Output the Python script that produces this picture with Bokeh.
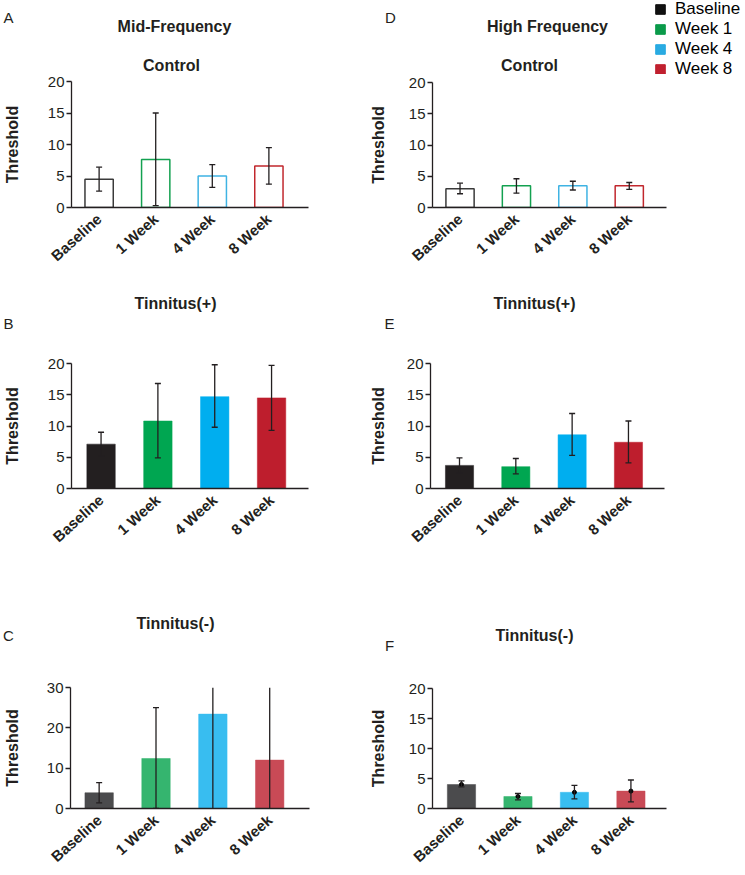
import math
import numpy as np
from bokeh.plotting import figure
from bokeh.models import (ColumnDataSource, Whisker, TeeHead, Label, FixedTicker,
                          Legend, LegendItem, Range1d)
from bokeh.layouts import column, row
from bokeh.embed import file_html
from bokeh.resources import INLINE

# ---------------- data ----------------
categories = ["Baseline", "1 Week", "4 Week", "8 Week"]
legend_labels = ["Baseline", "Week 1", "Week 4", "Week 8"]

mid_control_mean = [4.5, 7.6, 5.0, 6.6]
mid_control_low = [2.6, 0.3, 3.2, 3.7]
mid_control_high = [6.4, 15.0, 6.8, 9.5]

mid_tplus_mean = [7.1, 10.8, 14.7, 14.5]
mid_tplus_low = [5.2, 4.9, 9.8, 9.3]
mid_tplus_high = [9.0, 16.8, 19.8, 19.7]

mid_tminus_mean = [3.9, 12.4, 23.4, 12.0]
mid_tminus_low = [1.4, 0.0, 0.0, 0.0]
mid_tminus_high = [6.4, 25.0, 30.0, 30.0]

high_control_mean = [3.0, 3.5, 3.5, 3.5]
high_control_low = [2.2, 2.3, 2.8, 2.9]
high_control_high = [3.9, 4.6, 4.2, 4.0]

high_tplus_mean = [3.7, 3.5, 8.6, 7.4]
high_tplus_low = [2.5, 2.35, 5.3, 4.1]
high_tplus_high = [4.9, 4.8, 12.0, 10.8]

high_tminus_mean = [4.0, 2.0, 2.7, 2.9]
high_tminus_low = [3.6, 1.45, 1.6, 1.1]
high_tminus_high = [4.6, 2.5, 3.85, 4.75]

ticks_20 = [0, 5, 10, 15, 20]
ticks_30 = [0, 10, 20, 30]

# ---------------- styles ----------------
FONT = "Liberation Sans"
INK = "#231f20"
outline_colors = ["#3a3a3a", "#13a150", "#3fb3e3", "#c1272d"]
solid_colors = ["#231f20", "#00a651", "#00aeef", "#be1e2d"]
soft_colors = ["#4b4b4d", "#35b56f", "#38bdf0", "#c94a56"]
legend_colors = ["#111111", "#0a9a4a", "#29abe2", "#c0202f"]


def no_align(p):
    if "frame_align" in p.properties():
        p.frame_align = False
    return p


def header(fig_box, texts, legend=False):
    """Text-only strip above a chart (titles, panel letter, legend)."""
    fx, fy, fw, fh = fig_box
    p = figure(width=fw, height=fh, output_backend="svg", toolbar_location=None,
               x_range=Range1d(0, 1), y_range=Range1d(0, 1),
               x_axis_location=None, y_axis_location=None,
               min_border=0, min_border_left=0, min_border_right=0,
               min_border_top=0, min_border_bottom=0)
    no_align(p)
    p.outline_line_color = None
    p.grid.visible = False
    for (txt, px, py, size, fstyle) in texts:
        p.add_layout(Label(x=px - fx, y=fy + fh - py, x_units="screen",
                           y_units="screen", text=txt, text_font=FONT,
                           text_font_size=size, text_font_style=fstyle,
                           text_color=INK, text_align="center",
                           text_baseline="middle"))
    if legend:
        items = []
        for c, lab in zip(legend_colors, legend_labels):
            # legend-only key renderer (no visible data bar)
            r = p.vbar(x=[float("nan")], top=[float("nan")], width=0.1,
                       fill_color=c, line_color=c)
            items.append(LegendItem(label=lab, renderers=[r]))
        # location = bottom-left corner of the legend box, in frame pixels
        leg = Legend(items=items, location=(654 - fx, fh - 79),
                     label_text_font=FONT, label_text_font_size="17px",
                     label_text_color="black", glyph_width=12, glyph_height=12,
                     label_standoff=9, spacing=-1, padding=0, margin=0,
                     border_line_color=None, background_fill_alpha=0,
                     label_height=19, label_text_baseline="middle")
        p.add_layout(leg)
    return p


def chart(mean, low, high, ymax, yticks, xr, fig_box, frame_box, style,
          label_standoff, dots=False):
    fx, fy, fw, fh = fig_box          # page position/size of figure
    fl, fr, ft, fb = frame_box        # page position of plot frame
    p = figure(width=fw, height=fh, output_backend="svg", toolbar_location=None,
               x_range=Range1d(*xr), y_range=Range1d(0, ymax),
               min_border_left=fl - fx, min_border_right=fx + fw - fr,
               min_border_top=ft - fy, min_border_bottom=fy + fh - fb)
    no_align(p)
    p.outline_line_color = None
    p.xgrid.visible = False
    p.ygrid.visible = False

    xs = [int(v) for v in np.arange(len(categories))]
    fills = {"open": ["white"] * 4, "solid": solid_colors, "soft": soft_colors}[style]
    lines = outline_colors if style == "open" else fills
    src = ColumnDataSource(dict(x=xs, mean=mean, low=low, high=high,
                                cat=categories, fill=fills, line=lines))
    p.vbar(x="x", top="mean", bottom=0, width=0.5, source=src,
           fill_color="fill", line_color="line",
           line_width=1.5 if style == "open" else 0.5)

    # error bars: bars whose upper limit runs off the axis get no cap
    capped = [i for i in range(len(xs)) if high[i] < ymax]
    open_top = [i for i in range(len(xs)) if high[i] >= ymax]
    for idx, head in ((capped, True), (open_top, False)):
        if not idx:
            continue
        s = ColumnDataSource(dict(x=[xs[i] for i in idx],
                                  low=[low[i] for i in idx],
                                  high=[high[i] for i in idx]))
        w = Whisker(source=s, base="x", upper="high", lower="low",
                    line_color=INK, line_width=1.3, level="overlay",
                    upper_head=TeeHead(size=6, line_color=INK, line_width=1.3) if head else None,
                    lower_head=TeeHead(size=6, line_color=INK, line_width=1.3) if head else None)
        p.add_layout(w)
    if dots:
        p.scatter(x="x", y="mean", source=src, size=4, color="black")

    # y axis
    p.yaxis.ticker = FixedTicker(ticks=yticks)
    p.yaxis.major_label_text_font = FONT
    p.yaxis.major_label_text_font_size = "15px"
    p.yaxis.major_label_text_color = INK
    p.yaxis.major_tick_out = 5
    p.yaxis.major_tick_in = 0
    p.yaxis.minor_tick_line_color = None
    p.yaxis.major_label_standoff = 2
    p.yaxis.axis_line_width = 1.3
    p.yaxis.axis_line_color = INK
    p.yaxis.major_tick_line_color = INK
    p.yaxis.major_tick_line_width = 1.3
    p.yaxis.axis_label = "Threshold"
    p.yaxis.axis_label_text_font = FONT
    p.yaxis.axis_label_text_font_size = "16px"
    p.yaxis.axis_label_text_font_style = "bold"
    p.yaxis.axis_label_text_color = INK
    p.yaxis.axis_label_standoff = label_standoff

    # x axis
    p.xaxis.ticker = FixedTicker(ticks=xs)
    p.xaxis.major_label_overrides = {i: c for i, c in zip(xs, categories)}
    p.xaxis.major_label_orientation = math.radians(42)
    p.xaxis.major_label_text_font = FONT
    p.xaxis.major_label_text_font_style = "bold"
    p.xaxis.major_label_text_font_size = "15px"
    p.xaxis.major_label_text_color = INK
    p.xaxis.major_tick_line_color = None
    p.xaxis.major_tick_out = 0
    p.xaxis.major_tick_in = 0
    p.xaxis.minor_tick_line_color = None
    p.xaxis.major_label_standoff = 9
    p.xaxis.axis_line_width = 1.3
    p.xaxis.axis_line_color = INK
    return p


LW, RW = 366, 379   # column widths
RX = LW

# ---- left column (Mid-Frequency) ----
hA = header((0, 0, LW, 73), [("A", 8, 17, "15px", "normal"),
                             ("Mid-Frequency", 174, 26, "16px", "bold"),
                             ("Control", 171, 65, "16px", "bold")])
pA = chart(mid_control_mean, mid_control_low, mid_control_high, 20, ticks_20,
           (-0.488, 3.70), (0, 73, LW, 205), (68, 308, 81, 207), "open", 24)
hB = header((0, 278, LW, 67), [("B", 8, 323, "15px", "normal"),
                               ("Tinnitus(+)", 175, 303, "16px", "bold")])
pB = chart(mid_tplus_mean, mid_tplus_low, mid_tplus_high, 20, ticks_20,
           (-0.52, 3.65), (0, 345, LW, 245), (68, 308, 363, 488), "solid", 24)
hC = header((0, 590, LW, 65), [("C", 8, 635, "15px", "normal"),
                               ("Tinnitus(-)", 175, 623, "16px", "bold")])
pC = chart(mid_tminus_mean, mid_tminus_low, mid_tminus_high, 30, ticks_30,
           (-0.504, 3.70), (0, 655, LW, 219), (67, 309, 687, 812), "soft", 23)

# ---- right column (High Frequency) ----
hD = header((RX, 0, RW, 74), [("D", 390, 17, "15px", "normal"),
                              ("High Frequency", 547, 26, "16px", "bold"),
                              ("Control", 529, 65, "16px", "bold")],
            legend=True)
pD = chart(high_control_mean, high_control_low, high_control_high, 20, ticks_20,
           (-0.488, 3.66), (RX, 74, RW, 204), (428, 666, 82, 207), "open", 19)
hE = header((RX, 278, RW, 67), [("E", 389, 323, "15px", "normal"),
                                ("Tinnitus(+)", 534, 303, "16px", "bold")])
pE = chart(high_tplus_mean, high_tplus_low, high_tplus_high, 20, ticks_20,
           (-0.515, 3.64), (RX, 345, RW, 245), (426, 664, 363, 488), "solid", 17)
hF = header((RX, 590, RW, 70), [("F", 389, 645, "15px", "normal"),
                                ("Tinnitus(-)", 534, 635, "16px", "bold")])
pF = chart(high_tminus_mean, high_tminus_low, high_tminus_high, 20, ticks_20,
           (-0.513, 3.63), (RX, 660, RW, 214), (428, 666, 688, 813), "soft", 19,
           dots=True)

layout = row(column(hA, pA, hB, pB, hC, pC), column(hD, pD, hE, pE, hF, pF))
open("out.html", "w").write(file_html(layout, INLINE))
